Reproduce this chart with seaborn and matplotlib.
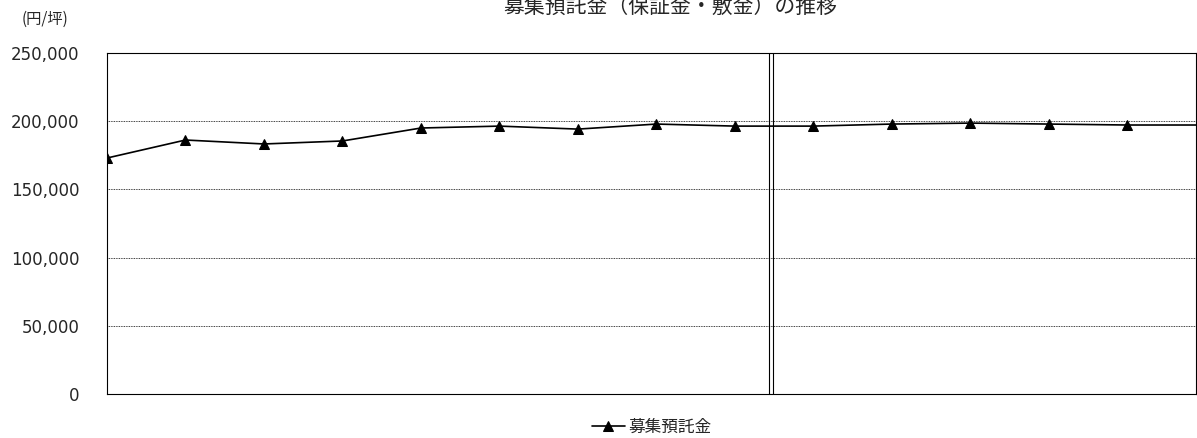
import matplotlib
matplotlib.use("Agg")
import matplotlib.pyplot as plt
import seaborn as sns
import pandas as pd

periods = list(range(15))
values = [173000, 186200, 183300, 185500, 195000, 196400, 194200, 197900,
          196400, 196400, 197900, 198600, 197900, 197200, 197200]
yticks = [0, 50000, 100000, 150000, 200000, 250000]
df = pd.DataFrame({"p": periods, "v": values})

sns.set_theme(style="white")
plt.rcParams['font.family'] = ['DejaVu Sans', 'Noto Sans CJK JP']

fig = plt.figure(figsize=(11.97, 4.38), dpi=100)
ax = fig.add_axes([0.0894, 0.1005, 0.9101, 0.7785])
sns.lineplot(data=df, x="p", y="v", ax=ax, color="black", lw=1.2,
             marker="^", markersize=7, markeredgecolor="black", label="募集預託金")
ax.set_xlim(0, 13.88)
ax.set_ylim(0, 250000)
ax.set_yticks(yticks)
ax.set_yticklabels([f"{t:,}" for t in yticks], fontsize=12)
ax.set_xticks([])
ax.set_xlabel("")
ax.set_ylabel("")
for t in yticks[1:-1]:
    ax.axhline(t, color="black", lw=0.6, ls=(0, (1, 1)), zorder=0)
for s in ax.spines.values():
    s.set_color("black"); s.set_linewidth(0.8)
ax.axvline(8.43, color="black", lw=0.8)
ax.axvline(8.49, color="black", lw=0.8)
ax.tick_params(axis="y", length=0, pad=20)
ax.legend(loc="center", bbox_to_anchor=(0.5, -0.097), frameon=False,
          prop={"family": ["Noto Sans CJK JP"], "size": 12},
          handlelength=2, handletextpad=0.2, borderpad=0)
fig.text(0.56, 0.985, "募集預託金（保証金・敷金）の推移", ha="center", va="center",
         fontsize=15, family=["Noto Sans CJK JP"])
fig.text(0.038, 0.955, "(円/坪)", ha="center", va="center", fontsize=11,
         family=["Noto Sans CJK JP"])
fig.savefig("out.png", dpi=100)
